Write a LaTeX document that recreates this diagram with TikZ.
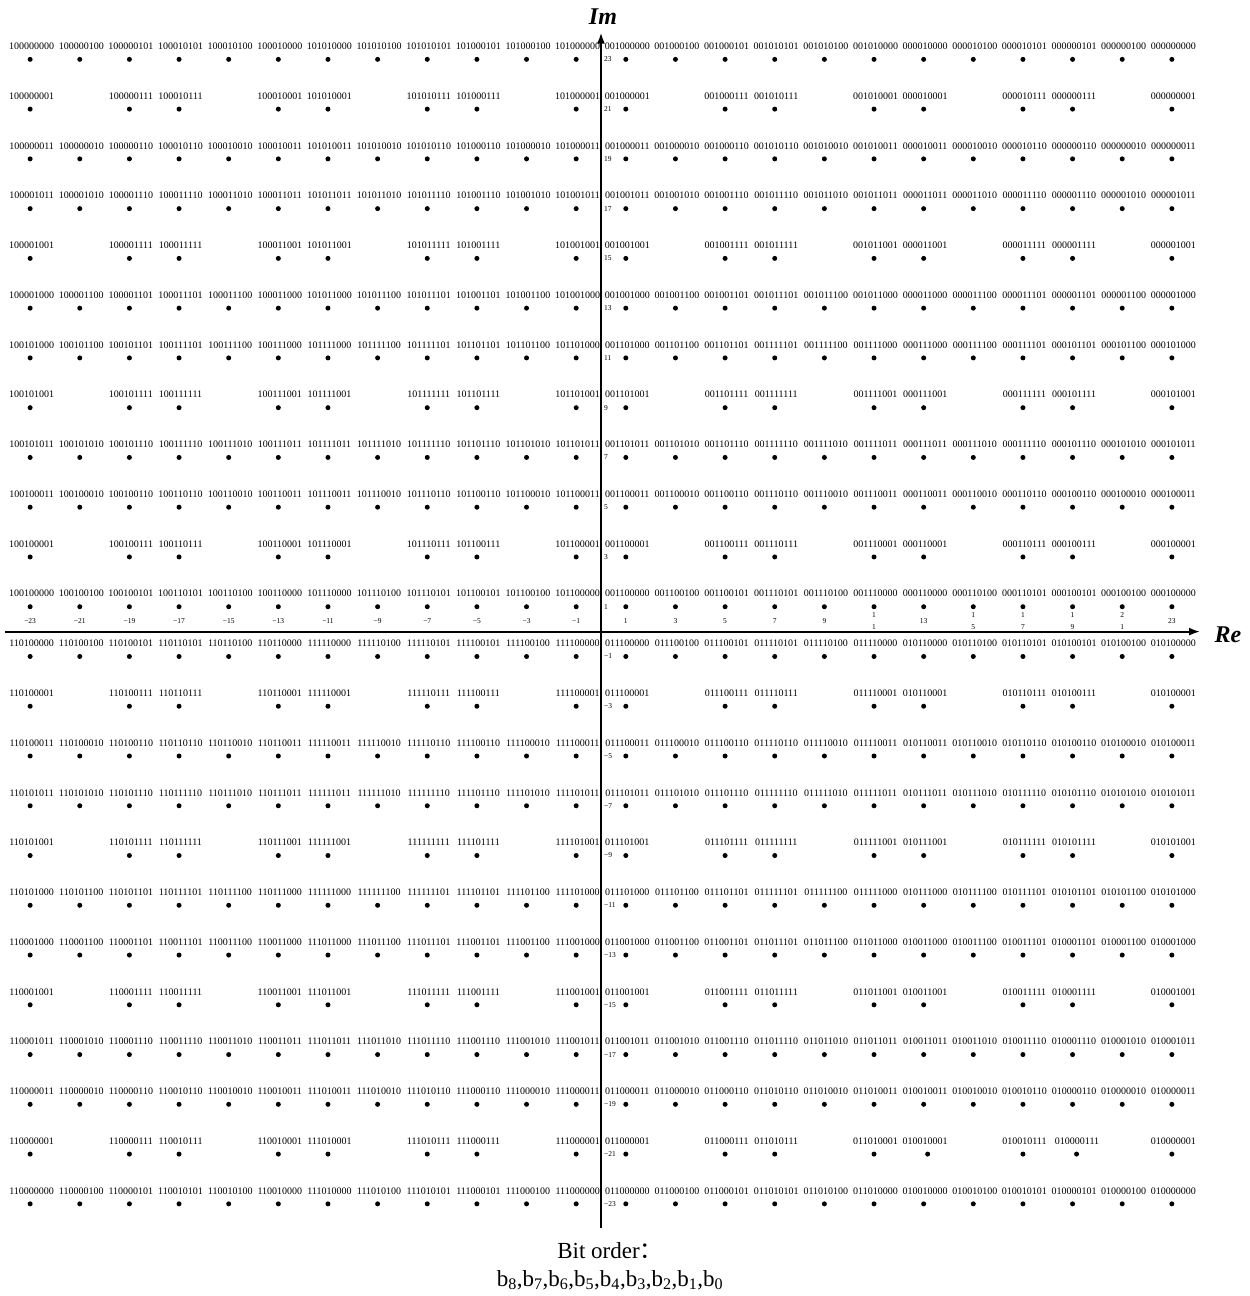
\documentclass[tikz,border=0pt]{standalone}
\usepackage{fontspec}
\setmainfont{Liberation Serif}
\newfontfamily\cjk{Noto Sans CJK SC}
\usetikzlibrary{arrows.meta}
\expandafter\def\csname inn1-1\endcsname{000}
\expandafter\def\csname inn3-1\endcsname{100}
\expandafter\def\csname inn5-1\endcsname{101}
\expandafter\def\csname inn1-3\endcsname{001}
\expandafter\def\csname inn5-3\endcsname{111}
\expandafter\def\csname inn1-5\endcsname{011}
\expandafter\def\csname inn3-5\endcsname{010}
\expandafter\def\csname inn5-5\endcsname{110}
\begin{document}
\begin{tikzpicture}[x=24.82pt,y=24.88pt,
  dot/.style={circle,fill=black,inner sep=0pt,minimum size=5pt},
  lab/.style={font=\fontsize{10}{10}\selectfont,inner sep=0pt},
  tick/.style={font=\fontsize{7.5}{7.5}\selectfont,inner sep=0pt},
  axis/.style={line width=1.8pt,-{Latex[length=11pt,width=8pt]}},
  axname/.style={font=\fontsize{24}{24}\selectfont\bfseries\itshape,inner sep=0pt},
  note/.style={font=\fontsize{23}{23}\selectfont,inner sep=0pt,anchor=base}]
\useasboundingbox (-601pt,-664.4pt) rectangle (649pt,631.6pt);
% axes
\coordinate (xL) at (-596pt,0);
\coordinate (xR) at (599pt,0);
\coordinate (yB) at (0,-596.4pt);
\coordinate (yT) at (0,599pt);
\draw[axis] (xL) -- (xR);
\draw[axis] (yB) -- (yT);
\node[axname,anchor=base] (im) at (2pt,606.6pt) {Im};
\node[axname] (re) at (627pt,-3pt) {Re};
% constellation points
\foreach \i in {-23,-21,...,23}{
 \foreach \j in {-23,-21,...,23}{
  \pgfmathtruncatemacro\ax{abs(\i)}
  \pgfmathtruncatemacro\ay{abs(\j)}
  \pgfmathtruncatemacro\cx{min(mod(\ax,12),12-mod(\ax,12))}
  \pgfmathtruncatemacro\cy{min(mod(\ay,12),12-mod(\ay,12))}
  \pgfmathtruncatemacro\skp{and(\cx==3,\cy==3)}
  \ifnum\skp=0
   \pgfmathtruncatemacro\bE{\i<0}
   \pgfmathtruncatemacro\bS{\j<0}
   \pgfmathtruncatemacro\bX{\ax<12}
   \pgfmathtruncatemacro\bF{\ay<12}
   \pgfmathtruncatemacro\bR{and(\ax>6,\ax<18)}
   \pgfmathtruncatemacro\bT{and(\ay>6,\ay<18)}
   \pgfmathsetmacro\dsh{and(\j==-21,or(\i==13,\i==19))*4}
   \pgfmathsetmacro\lsh{1.5+and(\j==-21,\i==19)*3}
   \node[dot,xshift=\dsh pt] (d\i x\j) at (\i,\j) {};
   \node[lab,xshift=\lsh pt,yshift=13pt] (l\i x\j) at (\i,\j) {\bE\bS\bX\bF\bR\bT\csname inn\cx-\cy\endcsname};
  \fi
 }}
% x ticks
\foreach \k in {1,3,...,23}{
  \node[tick,yshift=10.6pt] (tn\k) at (-\k,0) {−\k};
}
\foreach \k in {1,3,5,7,9,13,23}{
  \node[tick,yshift=10.6pt] (tp\k) at (\k,0) {\k};
}
\foreach \k/\a/\b in {11/1/1,15/1/5,17/1/7,19/1/9,21/2/1}{
  \node[tick,yshift=16.6pt] (ta\k) at (\k,0) {\a};
  \node[tick,yshift=4.6pt] (tb\k) at (\k,0) {\b};
}
% y ticks
\foreach \k in {1,3,...,23}{
  \node[tick,anchor=west] (yp\k) at ([xshift=3pt]0,\k) {\k};
  \node[tick,anchor=west] (yn\k) at ([xshift=3pt]0,-\k) {−\k};
}
% bit order note
\node[note] (bo) at (9pt,-626.4pt) {Bit order{\cjk ：}};
\node[note] (bb) at (9pt,-654.4pt) {b\textsubscript{8},b\textsubscript{7},b\textsubscript{6},b\textsubscript{5},b\textsubscript{4},b\textsubscript{3},b\textsubscript{2},b\textsubscript{1},b\textsubscript{0}};
\end{tikzpicture}
\end{document}
